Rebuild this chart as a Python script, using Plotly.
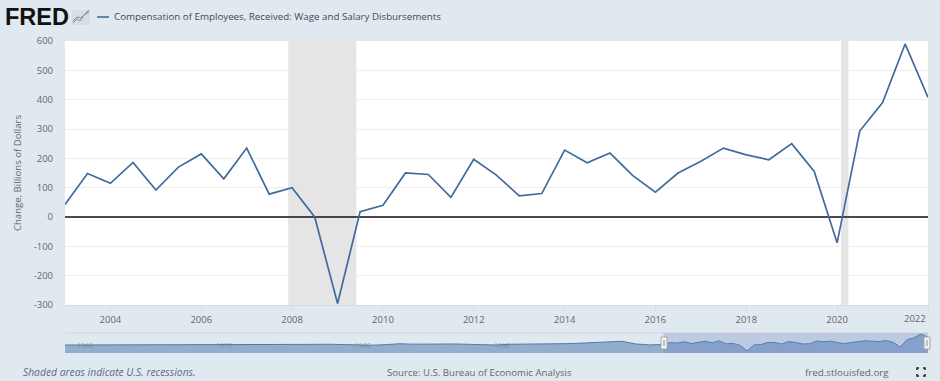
import plotly.graph_objects as go

W, H = 940, 381
PX0, PX1, PY0, PY1 = 65, 928, 41, 305
NY0, NY1 = 333, 353

series_name = "Compensation of Employees, Received: Wage and Salary Disbursements"
dates = [f"{y}-{m}-01" for y in range(2003, 2022) for m in ("01", "07")] + ["2022-01-01"]
values = [43, 148, 115, 186, 92, 170, 215, 130, 235, 78,
          100, 0, -295, 18, 40, 150, 145, 67, 197, 143,
          72, 80, 228, 185, 218, 142, 85, 150, 190, 235,
          212, 195, 250, 155, -88, 293, 390, 590, 408]
history_dates = [f"{y}-01-01" for y in range(1960, 2003)]
history_values = [15, 15, 18, 18, 22, 25, 30, 25, 35, 35, 20, 20, 35, 40, 30, 15, 40, 40, 50, 55,
                  35, 40, 5, 30, 80, 60, 50, 65, 70, 60, 45, 15, 55, 55, 60, 65, 85, 110, 135, 150,
                  210, 70, 20]
recessions = [("2007-12-01", "2009-06-01"), ("2020-02-01", "2020-04-01")]
tick_years = list(range(2004, 2023, 2))
y_ticks = [-300, -200, -100, 0, 100, 200, 300, 400, 500, 600]
nav_labels = [("1961-06-01", "1960"), ("1971-06-01", "1970"), ("1981-06-01", "1980"), ("1991-06-01", "1990")]

BG = "#e1e9f0"
LINE = "#3f6b9e"
TXT = "#666666"
FONT = "Open Sans"
px = lambda v: v / W
py = lambda v: 1 - v / H

nav_x = history_dates + dates
nav_y = history_values + values

fig = go.Figure()
fig.add_trace(go.Scatter(x=dates, y=values, mode="lines", name=series_name,
                         line=dict(color=LINE, width=1.7), xaxis="x", yaxis="y",
                         showlegend=False, hoverinfo="x+y"))
fig.add_trace(go.Scatter(x=nav_x, y=[-400] * len(nav_x), mode="lines", line=dict(width=0),
                         xaxis="x2", yaxis="y2", showlegend=False, hoverinfo="skip"))
fig.add_trace(go.Scatter(x=nav_x, y=nav_y, mode="lines", fill="tonexty",
                         fillcolor="rgba(69,114,167,0.5)", line=dict(color="#4f7bac", width=1),
                         xaxis="x2", yaxis="y2", showlegend=False, hoverinfo="skip"))

shapes = []
# navigator background (page colour instead of the white plot background)
shapes.append(dict(type="rect", xref="paper", yref="paper", x0=px(PX0 - 1), x1=px(PX1 + 1), y0=py(NY1 + 1), y1=py(NY0 - 1),
                   fillcolor=BG, line_width=0, layer="below"))
for a, b in recessions:
    shapes.append(dict(type="rect", xref="x", yref="y", x0=a, x1=b, y0=y_ticks[0], y1=y_ticks[-1],
                       fillcolor="#e5e5e5", line_width=0, layer="between"))
# baseline at zero
shapes.append(dict(type="line", xref="x", yref="y", x0=dates[0], x1=dates[-1], y0=0, y1=0,
                   line=dict(color="#111111", width=1.5), layer="between"))
# navigator: top rule, selection, handles
shapes.append(dict(type="line", xref="paper", yref="paper", x0=px(PX0), x1=px(PX1), y0=py(NY0), y1=py(NY0),
                   line=dict(color="#cfd5db", width=1)))
shapes.append(dict(type="rect", xref="x2", yref="y2 domain", x0=dates[0], x1=dates[-1], y0=0, y1=1,
                   fillcolor="rgba(102,133,194,0.3)", line_width=0))
for cx in (664, 927):
    shapes.append(dict(type="rect", xref="paper", yref="paper", x0=px(cx - 3), x1=px(cx + 3),
                       y0=py(349), y1=py(337), fillcolor="#f2f2f2", line=dict(color="#a8a8a8", width=1)))
    shapes.append(dict(type="line", xref="paper", yref="paper", x0=px(cx), x1=px(cx),
                       y0=py(346), y1=py(340), line=dict(color="#bdbdbd", width=2)))
# legend sample
shapes.append(dict(type="line", xref="paper", yref="paper", x0=px(97), x1=px(109), y0=py(17), y1=py(17),
                   line=dict(color=LINE, width=1.6)))
# logo chart icon
shapes.append(dict(type="rect", xref="paper", yref="paper", x0=px(72), x1=px(90), y0=py(25), y1=py(10),
                   fillcolor="#d8dee2", line_width=0))
def pts(p):
    return "M" + " L".join(f"{px(a):.5f},{py(b):.5f}" for a, b in p)
shapes.append(dict(type="path", xref="paper", yref="paper", path=pts([(73, 23), (77, 19), (80, 21), (84, 15), (89, 12)]),
                   line=dict(color="#7d9c6a", width=1)))
shapes.append(dict(type="path", xref="paper", yref="paper", path=pts([(73, 21), (77, 17), (81, 18), (85, 14), (89, 10)]),
                   line=dict(color="#6f8fa8", width=1)))
# fullscreen icon corners
for p in ([(917, 370), (917, 368), (919, 368)], [(923, 368), (925, 368), (925, 370)],
          [(917, 374), (917, 376), (919, 376)], [(923, 376), (925, 376), (925, 374)]):
    shapes.append(dict(type="path", xref="paper", yref="paper", path=pts(p), line=dict(color="#222222", width=1.5)))

def note(x, y, text, size=10, color=TXT, anchor="left", xref="paper", **kw):
    return dict(x=x, y=py(y), xref=xref, yref="paper", text=text, showarrow=False, xanchor=anchor, yanchor="middle",
                font=dict(family=kw.pop("family", FONT), size=size, color=color), **kw)

annotations = [
    note(px(3), 17, "<b>FRED</b>", size=23.5, color="#111111", family="Liberation Sans"),
    note(px(112), 17, series_name, size=9.75, color="#3e4a59"),
    note(px(21), 372, "<i>Shaded areas indicate U.S. recessions.</i>", size=10.3, color="#5a6b8c"),
    note(px(479), 372, "Source: U.S. Bureau of Economic Analysis", size=9.65, anchor="center"),
    note(px(891), 372, "fred.stlouisfed.org", size=9.8, anchor="right"),
    note(px(928), 318, "2022", size=9.5, anchor="right"),
]
for d, t in nav_labels:
    annotations.append(note(d, 345, t, size=7, color="rgba(90,90,90,0.45)", anchor="center", xref="x2"))

fig.update_layout(
    width=W, height=H, autosize=False,
    margin=dict(l=0, r=0, t=0, b=0, pad=0, autoexpand=False),
    paper_bgcolor=BG, plot_bgcolor="white",
    font=dict(family=FONT, size=10, color=TXT),
    showlegend=False,
    xaxis=dict(domain=[px(PX0), px(PX1)], anchor="y", type="date", range=[dates[0], dates[-1]],
               tickmode="array", tickvals=[f"{y}-01-01" for y in tick_years],
               ticktext=[str(y) if y != 2022 else " " for y in tick_years],
               ticks="outside", ticklen=6, tickcolor="#d5dce3", tickwidth=1, automargin=False,
               showgrid=False, zeroline=False, showline=True, linecolor="#d5dce3",
               tickfont=dict(size=9.5, color=TXT)),
    yaxis=dict(domain=[py(PY1), py(PY0)], anchor="x", range=[y_ticks[0], y_ticks[-1]],
               tickmode="array", tickvals=y_ticks, ticktext=[str(v) for v in y_ticks],
               gridcolor="#eeeeee", gridwidth=1, zeroline=False, showline=False, ticks="", automargin=False,
               ticklabelstandoff=11, tickfont=dict(size=9.5, color=TXT),
               title=dict(text="Change, Billions of Dollars", standoff=10, font=dict(size=9.6, color=TXT))),
    xaxis2=dict(domain=[px(PX0), px(PX1)], anchor="y2", type="date", range=["1960-01-01", dates[-1]],
                visible=False),
    yaxis2=dict(domain=[py(NY1), py(NY0)], anchor="x2", range=[-400, 640], visible=False),
    shapes=shapes, annotations=annotations,
)

fig.write_html("out.html", post_script="document.body.style.margin='0';document.body.style.overflow='hidden';",
               config=dict(displayModeBar=False))
